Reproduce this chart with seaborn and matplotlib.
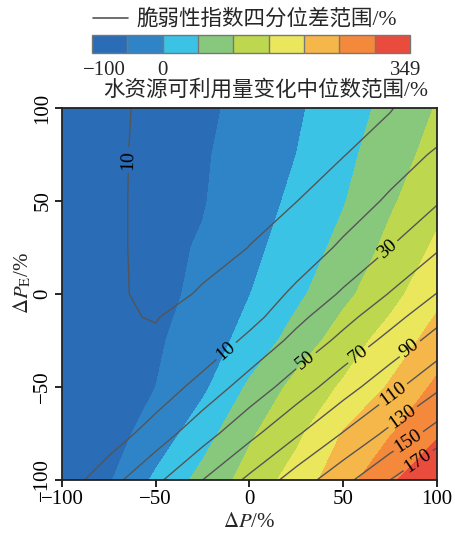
import numpy as np
import pandas as pd
import matplotlib
matplotlib.use("Agg")
import matplotlib.pyplot as plt
from matplotlib.lines import Line2D
from matplotlib.transforms import ScaledTranslation
import seaborn as sns

# grid of the sensitivity test (delta P, delta PE in %)
dP = [-100, -75, -50, -25, 0, 25, 50, 75, 100]
dPE = [-100, -75, -50, -25, 0, 25, 50, 75, 100]

# median change of available water (%), one row per dPE value (bottom -> top)
water_rows = [
    [-100, -55, 9, 66, 119, 171, 231, 290, 349],
    [-100, -69, -30, 29, 93, 139, 203, 247, 293],
    [-100, -75, -50, -10, 58, 115, 156, 205, 260],
    [-100, -78, -57, -25, 17, 71, 124, 171, 220],
    [-100, -76, -60, -42, -1, 39, 88, 133, 187],
    [-100, -78, -62, -46, -13, 23, 64, 113, 158],
    [-100, -80, -66, -53, -22, 10, 47, 93, 136],
    [-100, -80, -68, -55, -30, 0, 37, 77, 118],
    [-100, -85, -72, -58, -38, -7, 27, 64, 103],
]

# interquartile range of the vulnerability index (%), with an extra row near the loop
dPE_vuln = [-100, -75, -50, -25, -12.5, 0, 25, 50, 75, 100]
vuln_rows = [
    [-2, 23, 46, 70, 94, 119, 144, 170, 197],
    [-5, -2, 20, 42, 64.5, 87.5, 111, 135, 158],
    [-5, -4, -3, 18, 38.6, 59.5, 81.5, 103.7, 126.3],
    [-2, -2, 7.3, -6, 15, 35.4, 55.1, 75.9, 97.4],
    [1.5, 7.8, 10.9, 0.2, 3, 25, 44, 63, 84],
    [5, 6.9, 14, 8.85, -4, 14.4, 32.6, 51, 70.5],
    [5, 7.3, 14, 14, 9.85, -3, 13.6, 30, 47.5],
    [5, 7.3, 14, 14, 13, 10.3, -1.9, 13.2, 28.2],
    [5, 7.1, 14, 14, 14, 13, 10.74, -0.8, 12.7],
    [5, 6.4, 14, 14, 14, 14, 13, 11.24, -4.2],
]

fill_levels = [-100, -50, 0, 50, 100, 150, 200, 250, 300, 349]
fill_colors = ["#2a6cb6", "#2f84c7", "#3bc3e6", "#88c87c", "#bdd84f",
               "#ebe75c", "#f6b74a", "#f4883b", "#e94b3c"]
line_levels = [10, 30, 50, 70, 90, 110, 130, 150, 170]
cbar_ticks = [-100, 0, 349]
cbar_labels = ["\u2212100", "0", "349"]

# where the contour labels sit
label_spots = [(-65, 72), (-13, -30), (73, 25), (31, -37), (59, -34),
               (86, -30), (76, -53), (81, -65), (84, -78), (91, -91)]

water = pd.DataFrame(water_rows, index=dPE, columns=dP)
vuln = pd.DataFrame(vuln_rows, index=dPE_vuln, columns=dP)

sns.set_theme(style="ticks")
plt.rcParams["font.family"] = ["Liberation Serif", "Noto Sans CJK SC", "DejaVu Sans"]
plt.rcParams["mathtext.fontset"] = "stix"
plt.rcParams["axes.unicode_minus"] = True

fig = plt.figure(figsize=(4.56, 5.36), dpi=100)
ax = fig.add_axes([0.136, 0.1045, 0.822, 0.694])
cax = fig.add_axes([0.2018, 0.901, 0.697, 0.0336])

X, Y = np.meshgrid(water.columns.values, water.index.values)
cf = ax.contourf(X, Y, water.values, levels=fill_levels,
                 colors=sns.color_palette(fill_colors))
Xv, Yv = np.meshgrid(vuln.columns.values, vuln.index.values)
cs = ax.contour(Xv, Yv, vuln.values, levels=line_levels,
                colors="#555555", linewidths=1.0)
ax.clabel(cs, inline=True, fontsize=14, fmt="%d", colors="black",
          manual=label_spots, inline_spacing=3)

ax.set_xlim(-100, 100)
ax.set_ylim(-100, 100)
ax.set_xticks([-100, -50, 0, 50, 100])
ax.set_yticks([-100, -50, 0, 50, 100])
ax.tick_params(labelsize=15, length=5, width=1.2, direction="out", pad=2,
               color="black", labelcolor="black")
plt.setp(ax.get_yticklabels(), rotation=90, va="center")
for sp in ax.spines.values():
    sp.set_linewidth(1.3)
    sp.set_color("#222222")

ax.set_xlabel(r"$\Delta P$/%", fontsize=15)
ax.set_ylabel(r"$\Delta P_{\mathrm{E}}$/%", fontsize=15)
ax.xaxis.set_label_coords(0.5, -0.09)
ax.yaxis.set_label_coords(-0.076, 0.53)

cb = fig.colorbar(cf, cax=cax, orientation="horizontal", ticks=cbar_ticks,
                  drawedges=True)
cb.outline.set_edgecolor("#777777")
cb.outline.set_linewidth(1.0)
cb.dividers.set_color("#777777")
cb.dividers.set_linewidth(1.0)
cax.tick_params(length=0, labelsize=15, pad=6)
cax.set_xticklabels(cbar_labels)
tl = cax.get_xticklabels()
tl[0].set_transform(tl[0].get_transform() + ScaledTranslation(0.12, 0, fig.dpi_scale_trans))
tl[-1].set_transform(tl[-1].get_transform() + ScaledTranslation(-0.04, 0, fig.dpi_scale_trans))

fig.add_artist(Line2D([0.204, 0.281], [0.967, 0.967], transform=fig.transFigure,
                      color="#555555", lw=1.2))
fig.text(0.300, 0.964, "脆弱性指数四分位差范围/%", fontsize=15.5,
         va="center", ha="left")
fig.text(0.583, 0.832, "水资源可利用量变化中位数范围/%", fontsize=15.5,
         va="center", ha="center")

fig.savefig("out.png", dpi=100)
